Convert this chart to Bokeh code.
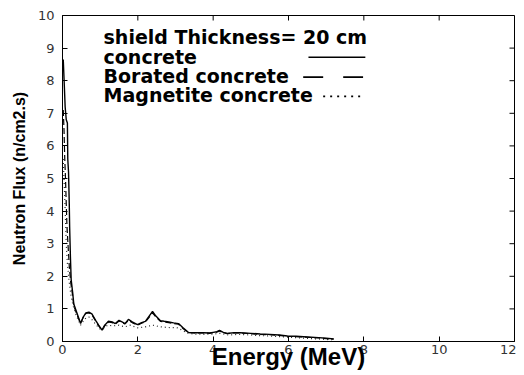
from bokeh.plotting import figure
from bokeh.models import Range1d, FixedTicker, Label
from bokeh.embed import file_html
from bokeh.resources import INLINE

# ---- data ----
energy_concrete = [0.02, 0.05, 0.07, 0.10, 0.13, 0.14, 0.16, 0.18, 0.19, 0.21, 0.23, 0.27, 0.30,
                   0.36, 0.42, 0.48, 0.55, 0.62, 0.70, 0.78, 0.88, 0.96, 1.05, 1.12, 1.22, 1.32,
                   1.40, 1.50, 1.58, 1.66, 1.75, 1.85, 1.99, 2.10, 2.20, 2.30, 2.39, 2.48, 2.60,
                   2.70, 2.82, 2.95, 3.08, 3.20, 3.34, 3.50, 3.74, 3.90, 4.00, 4.10, 4.17, 4.27,
                   4.37, 4.55, 4.72, 5.00, 5.25, 5.50, 5.75, 5.97, 6.20, 6.50, 6.80, 7.00, 7.20]
flux_concrete = [8.65, 7.8, 7.2, 6.8, 6.7, 5.6, 5.2, 4.2, 3.5, 2.6, 1.9, 1.5, 1.15,
                 0.95, 0.75, 0.55, 0.75, 0.88, 0.90, 0.85, 0.65, 0.50, 0.35, 0.50, 0.62, 0.60,
                 0.55, 0.65, 0.60, 0.55, 0.68, 0.60, 0.52, 0.58, 0.62, 0.78, 0.92, 0.78, 0.64,
                 0.62, 0.60, 0.57, 0.55, 0.42, 0.28, 0.27, 0.27, 0.26, 0.28, 0.30, 0.34, 0.28,
                 0.25, 0.27, 0.27, 0.25, 0.23, 0.22, 0.20, 0.17, 0.16, 0.14, 0.12, 0.10, 0.08]

energy_borated = [0.02, 0.04, 0.06, 0.08, 0.10, 0.12, 0.15, 0.18, 0.22, 0.27, 0.30,
                  0.36, 0.42, 0.48, 0.55, 0.62, 0.70, 0.78, 0.88, 0.96, 1.05, 1.12, 1.22, 1.32,
                  1.40, 1.50, 1.58, 1.66, 1.75, 1.85, 1.99, 2.10, 2.20, 2.30, 2.39, 2.48, 2.60,
                  2.70, 2.82, 2.95, 3.08, 3.20, 3.34, 3.50, 3.74, 3.90, 4.00, 4.10, 4.17, 4.27,
                  4.37, 4.55, 4.72, 5.00, 5.25, 5.50, 5.75, 5.97, 6.20, 6.50, 6.80, 7.00, 7.20]
flux_borated = [7.1, 6.5, 5.6, 5.0, 4.2, 3.5, 2.9, 2.3, 1.8, 1.4, 1.1,
                0.90, 0.72, 0.56, 0.74, 0.86, 0.88, 0.82, 0.63, 0.48, 0.34, 0.48, 0.60, 0.58,
                0.53, 0.63, 0.58, 0.54, 0.65, 0.58, 0.50, 0.56, 0.60, 0.74, 0.88, 0.75, 0.62,
                0.60, 0.58, 0.55, 0.53, 0.40, 0.27, 0.26, 0.26, 0.25, 0.27, 0.29, 0.32, 0.27,
                0.24, 0.26, 0.26, 0.24, 0.22, 0.21, 0.19, 0.16, 0.15, 0.13, 0.11, 0.09, 0.07]

energy_magnetite = [0.02, 0.04, 0.06, 0.08, 0.10, 0.13, 0.17, 0.22, 0.28, 0.35, 0.42, 0.48,
                    0.55, 0.62, 0.70, 0.80, 0.90, 1.00, 1.08, 1.20, 1.35, 1.50, 1.65, 1.80,
                    1.99, 2.20, 2.40, 2.60, 2.80, 3.05, 3.20, 3.34, 3.50, 3.74, 4.00, 4.20,
                    4.40, 4.70, 5.00, 5.25, 5.50, 5.75, 6.00, 6.30, 6.60, 6.90, 7.20]
flux_magnetite = [5.6, 5.0, 4.4, 3.7, 3.0, 2.4, 1.9, 1.45, 1.1, 0.85, 0.65, 0.50,
                  0.62, 0.72, 0.75, 0.65, 0.50, 0.38, 0.40, 0.50, 0.48, 0.50, 0.45, 0.50,
                  0.42, 0.45, 0.50, 0.45, 0.43, 0.42, 0.33, 0.25, 0.23, 0.22, 0.23, 0.25,
                  0.20, 0.22, 0.20, 0.18, 0.17, 0.15, 0.13, 0.11, 0.09, 0.07, 0.05]

x_ticks = [0, 2, 4, 6, 8, 10, 12]
y_ticks = [0, 1, 2, 3, 4, 5, 6, 7, 8, 9, 10]
legend_title = "shield Thickness= 20 cm"
series_names = ["concrete", "Borated concrete", "Magnetite concrete"]
x_label = "Energy (MeV)"
y_label = "Neutron Flux (n/cm2.s)"

# ---- layout constants ----
X0, X1, Y0, Y1 = 0, 12, 0, 10
TICK_LEN = 5
FRAME_W, FRAME_H = 452, 326
PX_X = (X1 - X0) / FRAME_W
PX_Y = (Y1 - Y0) / FRAME_H

p = figure(width=516, height=372, frame_width=FRAME_W, frame_height=FRAME_H,
           x_range=Range1d(X0, X1), y_range=Range1d(Y0, Y1),
           output_backend="svg", toolbar_location=None,
           min_border_left=62, min_border_right=2, min_border_top=15, min_border_bottom=31)
p.background_fill_color = "white"
p.border_fill_color = "white"
p.outline_line_color = "black"
p.outline_line_width = 1
p.xgrid.visible = False
p.ygrid.visible = False

tick_font = "DejaVu Sans"
for ax in p.axis:
    ax.axis_line_color = "black"
    ax.major_tick_line_color = "black"
    ax.major_tick_in = TICK_LEN
    ax.major_tick_out = 0
    ax.minor_tick_line_color = None
    ax.major_label_text_font = tick_font
    ax.major_label_text_font_size = "13px"
    ax.major_label_text_color = "#333333"

p.xaxis.ticker = FixedTicker(ticks=x_ticks)
p.yaxis.ticker = FixedTicker(ticks=y_ticks)
p.xaxis.major_label_standoff = 3
p.yaxis.major_label_standoff = 8

p.xaxis.axis_label = x_label
p.xaxis.axis_label_text_font = "Liberation Sans"
p.xaxis.axis_label_text_font_style = "bold"
p.xaxis.axis_label_text_font_size = "24px"
p.xaxis.axis_label_text_color = "black"
p.xaxis.axis_label_standoff = -14

p.yaxis.axis_label = y_label
p.yaxis.axis_label_text_font = "Liberation Sans"
p.yaxis.axis_label_text_font_style = "bold"
p.yaxis.axis_label_text_font_size = "16px"
p.yaxis.axis_label_text_color = "black"
p.yaxis.axis_label_standoff = 7

# inward ticks on the top and right sides (mirror of bottom/left ticks)
p.segment(x0=x_ticks, y0=[Y1] * len(x_ticks), x1=x_ticks,
          y1=[Y1 - TICK_LEN * PX_Y] * len(x_ticks), line_color="black", line_width=1)
p.segment(x0=[X1] * len(y_ticks), y0=y_ticks, x1=[X1 - TICK_LEN * PX_X] * len(y_ticks),
          y1=y_ticks, line_color="black", line_width=1)

# ---- curves ----
p.line(energy_concrete, flux_concrete, line_color="black", line_width=1.4)
p.line(energy_borated, flux_borated, line_color="black", line_width=1.2, line_dash="6 3")
p.line(energy_magnetite, flux_magnetite, line_color="#222222", line_width=1.2, line_dash="1 3")

# ---- legend (drawn manually: text on the left, sample line on the right) ----
legend_font = "DejaVu Sans"
text_x = 1.09
text_ys = [9.33, 8.73, 8.15, 7.56]
for txt, ty in zip([legend_title] + series_names, text_ys):
    p.add_layout(Label(x=text_x, y=ty, text=txt, text_font=legend_font,
                       text_font_style="bold", text_font_size="19px",
                       text_color="black", text_baseline="alphabetic"))

sample_x = [[6.53, 8.04], [6.39, 7.98], [6.92, 7.96]]
sample_y = [8.72, 8.11, 7.52]
sample_dash = ["solid", "20 20", "2 5"]
for sx, sy, sd in zip(sample_x, sample_y, sample_dash):
    p.line(sx, [sy, sy], line_color="black", line_width=1.6, line_dash=sd)

open("out.html", "w").write(file_html(p, INLINE))
